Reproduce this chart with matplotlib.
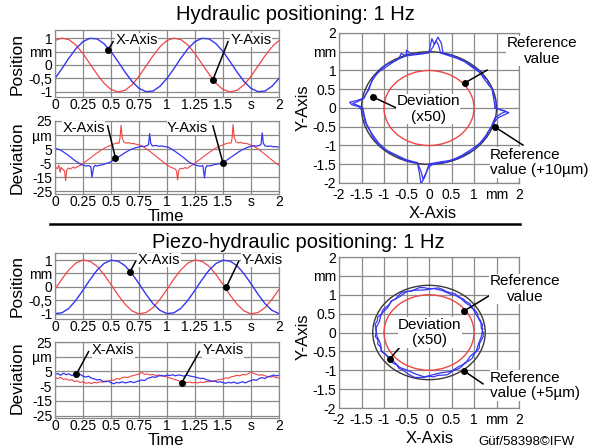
import numpy as np
import matplotlib
matplotlib.use('Agg')
import matplotlib.pyplot as plt
from matplotlib.patches import Circle
from matplotlib.lines import Line2D

plt.rcParams['font.family'] = ['Liberation Sans', 'DejaVu Sans']

# ---------------- data ----------------
time_ticks = [0, 0.25, 0.5, 0.75, 1, 1.25, 1.5, 1.75, 2]
time_ticklabels = ['0', '0.25', '0.5', '0.75', '1', '1.25', '1.5', 's', '2']
pos_ticks = [1, 0.5, 0, -0.5, -1]
pos_ticklabels = ['1', 'mm', '0', '-0,5', '-1']
dev_ticks = [25, 15, 5, -5, -15, -25]
dev_ticklabels = ['25', 'µm', '5', '-5', '-15', '-25']
xy_ticks = [-2, -1.5, -1, -0.5, 0, 0.5, 1, 1.5, 2]
xy_ticklabels = ['-2', '-1.5', '-1', '-0.5', '0', '0.5', '1', 'mm', '2']

# position samples (mm), 33 samples over 0..2 s
hyd_pos_x = [-0.50, -0.13, 0.26, 0.61, 0.87, 0.99, 0.97, 0.79, 0.50, 0.13, -0.26, -0.61, -0.87, -0.99, -0.97, -0.79,
             -0.50, -0.13, 0.26, 0.61, 0.87, 0.99, 0.97, 0.79, 0.50, 0.13, -0.26, -0.61, -0.87, -0.99, -0.97, -0.79, -0.50]
hyd_pos_y = [0.91, 1.00, 0.94, 0.74, 0.42, 0.04, -0.34, -0.68, -0.91, -1.00, -0.94, -0.74, -0.42, -0.04, 0.34, 0.68,
             0.91, 1.00, 0.94, 0.74, 0.42, 0.04, -0.34, -0.68, -0.91, -1.00, -0.94, -0.74, -0.42, -0.04, 0.34, 0.68, 0.91]
pz_pos_x = [-0.99, -0.96, -0.79, -0.49, -0.12, 0.27, 0.62, 0.87, 0.99, 0.96, 0.79, 0.49, 0.12, -0.27, -0.62, -0.87,
            -0.99, -0.96, -0.79, -0.49, -0.12, 0.27, 0.62, 0.87, 0.99, 0.96, 0.79, 0.49, 0.12, -0.27, -0.62, -0.87, -0.99]
pz_pos_y = [-0.09, 0.30, 0.64, 0.89, 1.00, 0.95, 0.77, 0.46, 0.09, -0.30, -0.64, -0.89, -1.00, -0.95, -0.77, -0.46,
            -0.09, 0.30, 0.64, 0.89, 1.00, 0.95, 0.77, 0.46, 0.09, -0.30, -0.64, -0.89, -1.00, -0.95, -0.77, -0.46, -0.09]

# hydraulic deviation (µm)
hyd_dev_x_t = [0.00, 0.025, 0.05, 0.075, 0.10, 0.125, 0.15, 0.175, 0.20, 0.225,
               0.25, 0.275, 0.30, 0.32, 0.33, 0.345, 0.36, 0.375, 0.40, 0.425,
               0.45, 0.475, 0.50, 0.525, 0.55, 0.575, 0.60, 0.625, 0.65, 0.675,
               0.70, 0.725, 0.75, 0.775, 0.80, 0.825, 0.835, 0.845, 0.855, 0.87,
               0.90, 0.925, 0.95, 0.975,
               1.00, 1.025, 1.05, 1.075, 1.10, 1.125, 1.15, 1.175, 1.20, 1.225,
               1.25, 1.275, 1.30, 1.32, 1.335, 1.345, 1.36, 1.375, 1.40, 1.425,
               1.45, 1.475, 1.50, 1.525, 1.55, 1.575, 1.60, 1.625, 1.65, 1.675,
               1.70, 1.725, 1.75, 1.775, 1.80, 1.825, 1.84, 1.85, 1.86, 1.875,
               1.90, 1.925, 1.95, 1.975, 2.00]
hyd_dev_x = [5.5, 5.0, 4.2, 3.0, 1.6, 0.2, -1.4, -3.0, -4.3, -5.6,
             -6.4, -7.0, -6.8, -7.5, -15.0, -8.0, -6.6, -7.1, -6.5, -6.2,
             -5.4, -4.9, -4.0, -2.6, -1.6, -0.2, 1.1, 2.4, 3.6, 4.6,
             5.4, 6.1, 6.5, 7.0, 6.8, 7.6, 8.2, 16.0, 9.0, 7.2,
             7.6, 7.0, 7.3, 6.8,
             6.6, 5.8, 4.5, 3.2, 1.8, 0.3, -1.2, -2.9, -4.4, -5.5,
             -6.3, -6.9, -7.2, -6.8, -15.5, -8.2, -6.7, -7.0, -6.6, -6.0,
             -5.7, -5.2, -4.8, -3.4, -2.0, -0.6, 0.8, 2.2, 3.5, 4.7,
             5.6, 6.4, 7.0, 7.4, 7.1, 7.6, 8.3, 16.5, 9.2, 7.3,
             6.9, 7.2, 6.6, 6.8, 6.2]
hyd_dev_y_t = [0.00, 0.02, 0.035, 0.045, 0.055, 0.07, 0.085, 0.095, 0.105, 0.12,
               0.14, 0.16, 0.18, 0.20, 0.225, 0.25, 0.275, 0.30, 0.325, 0.35,
               0.375, 0.40, 0.425, 0.45, 0.475, 0.50, 0.525, 0.55, 0.57, 0.58,
               0.59, 0.60, 0.615, 0.64, 0.66, 0.68, 0.70, 0.725, 0.75, 0.775,
               0.80, 0.825, 0.85, 0.875, 0.90, 0.925, 0.95, 0.975,
               1.00, 1.025, 1.05, 1.07, 1.085, 1.095, 1.105, 1.12, 1.14, 1.16,
               1.18, 1.20, 1.225, 1.25, 1.275, 1.30, 1.325, 1.35, 1.375, 1.40,
               1.425, 1.45, 1.475, 1.50, 1.525, 1.55, 1.57, 1.58, 1.59, 1.60,
               1.615, 1.64, 1.66, 1.68, 1.70, 1.725, 1.75, 1.775, 1.80, 1.825,
               1.85, 1.875, 1.90, 1.925, 1.95, 1.975, 2.00]
hyd_dev_y = [-7.5, -9.0, -6.5, -11.5, -8.0, -9.5, -10.5, -17.5, -10.0, -8.5,
             -9.2, -7.8, -8.6, -7.4, -6.6, -5.2, -3.8, -2.2, -0.8, 0.8,
             2.2, 3.6, 4.8, 6.0, 7.0, 7.6, 8.6, 9.4, 9.0, 12.5,
             22.0, 13.0, 10.0, 9.2, 9.6, 8.8, 9.0, 8.4, 8.0, 7.2,
             6.0, 4.6, 3.2, 1.6, 0.0, -1.6, -3.2, -4.8,
             -6.4, -7.6, -8.4, -9.0, -10.5, -17.0, -10.2, -8.6, -9.0, -8.2,
             -8.8, -7.6, -6.4, -5.0, -3.4, -2.0, -0.4, 1.0, 2.6, 3.8,
             5.2, 6.4, 7.2, 8.0, 8.8, 9.4, 9.2, 12.0, 22.5, 13.5,
             10.2, 9.4, 9.8, 9.0, 9.2, 8.6, 7.8, 7.0, 5.8, 4.4,
             2.8, 1.2, -0.4, -2.0, -3.6, -5.2, -6.6]

# piezo-hydraulic deviation (µm), 81 samples over 0..2 s
pz_dev_x = [3.0, 3.6, 2.4, 3.8, 2.8, 3.4, 2.2, 3.2, 2.6, 3.0, 1.8,
            1.2, 1.8, 0.4, 0.0, -0.8, -0.4, -1.6, -2.0, -1.6, -2.6,
            -3.4, -2.4, -2.8, -2.0, -2.8, -2.4, -1.8, -2.6, -2.0, -1.4,
            -0.8, -1.2, 0.2, 0.8, 1.4, 1.0, 2.0, 2.4, 1.8, 2.6,
            2.2, 2.8, 2.0, 2.6, 2.4, 1.8, 2.6, 2.0, 1.6, 1.2,
            0.8, 0.2, 0.4, -0.6, -1.0, -1.8, -1.4, -2.4, -2.0, -2.6,
            -3.0, -2.4, -2.8, -2.2, -3.2, -2.6, -2.0, -2.8, -1.8, -1.2,
            -0.6, -1.0, 0.4, 0.8, 0.2, 1.4, 1.8, 2.6, 2.0, 2.4]
pz_dev_y = [0.8, 0.2, 1.0, -0.4, 0.0, -1.0, -0.6, -1.8, -1.4, -2.4, -2.0,
            -3.0, -2.6, -3.2, -2.4, -2.8, -2.0, -2.4, -1.4, -1.8, -0.8,
            -1.0, 0.2, -0.2, 0.8, 1.2, 0.8, 1.8, 2.2, 2.8, 3.2,
            4.4, 3.0, 3.4, 2.6, 3.0, 2.2, 2.6, 1.8, 2.0, 1.2,
            0.6, 0.0, -0.6, -1.2, -2.2, -1.8, -2.6, -2.2, -2.8, -2.4,
            -2.8, -2.2, -2.6, -1.8, -2.0, -1.4, -1.6, -0.8, -0.4, 0.0,
            0.6, 0.4, 1.4, 1.8, 2.4, 2.0, 3.0, 2.6, 3.4, 4.8,
            3.6, 3.0, 2.4, 2.8, 2.0, 1.6, 1.2, 1.6, 0.8, 0.6]

# XY plots: reference radius and tolerance radius (mm, deviation x50)
ref_radius = 1.0
hyd_tol_radius = 1.5
pz_tol_radius = 1.25

# hydraulic XY deviation contour (angle deg, radius mm) - two laps
hyd_xy_ang1 = [0, 5, 10, 15, 20, 25, 30, 35, 40, 45, 50, 55, 60, 65, 70, 75,
               78, 81, 84, 86, 88, 90, 93,
               100, 105, 108, 110, 113, 116, 120,
               125, 130, 135, 140, 145, 150, 155, 160, 165, 170,
               173, 175, 177, 179, 182, 185,
               190, 195, 200,
               210, 215, 220, 225, 230, 235, 240, 245, 250, 255, 260,
               263, 265, 267, 269, 272, 275,
               280, 285, 290, 295, 300, 305, 310, 315, 320, 325, 330, 335, 340, 345, 350,
               353, 356, 358, 360]
hyd_xy_rad1 = [1.48, 1.50, 1.49, 1.47, 1.50, 1.46, 1.50, 1.47, 1.52, 1.48, 1.47, 1.48, 1.46, 1.47, 1.50, 1.48,
               1.50, 1.75, 1.90, 1.70, 1.85, 1.50, 1.46,
               1.47, 1.48, 1.62, 1.48, 1.58, 1.50, 1.46,
               1.48, 1.50, 1.49, 1.47, 1.50, 1.46, 1.44, 1.42, 1.45, 1.48,
               1.62, 1.77, 1.72, 1.55, 1.50, 1.48,
               1.46, 1.47, 1.44,
               1.46, 1.48, 1.47, 1.49, 1.47, 1.48, 1.46, 1.48, 1.49, 1.50, 1.48,
               1.75, 2.03, 1.85, 1.62, 1.52, 1.50,
               1.48, 1.50, 1.47, 1.49, 1.48, 1.47, 1.49, 1.48, 1.47, 1.49, 1.48, 1.46, 1.48, 1.50, 1.55,
               1.65, 1.78, 1.60, 1.48]
hyd_xy_ang2 = [0, 10, 20, 30, 40, 50, 60, 70, 80, 83, 85, 87, 90, 100, 110, 120, 130, 140, 150, 160, 170,
               174, 176, 178, 180, 190, 200, 210, 220, 230, 240, 250, 260, 264, 266, 268, 270,
               280, 290, 300, 310, 320, 330, 340, 350, 355, 357, 359, 360]
hyd_xy_rad2 = [1.47, 1.46, 1.49, 1.45, 1.47, 1.45, 1.48, 1.46, 1.49, 1.70, 1.80, 1.62, 1.47,
               1.45, 1.48, 1.47, 1.45, 1.48, 1.46, 1.44, 1.47,
               1.60, 1.70, 1.55, 1.47, 1.45, 1.46, 1.44, 1.46, 1.47, 1.45, 1.47, 1.48,
               1.70, 1.90, 1.72, 1.49,
               1.46, 1.48, 1.46, 1.45, 1.47, 1.46, 1.47, 1.49, 1.62, 1.72, 1.55, 1.47]

# piezo-hydraulic XY deviation contour (radius mm), lap 1 every 5 deg, lap 2 every 10 deg from 5 deg
pz_xy_rad1 = [1.20, 1.18, 1.21, 1.17, 1.16, 1.19, 1.18, 1.15, 1.19, 1.16, 1.17, 1.14, 1.18, 1.16, 1.15, 1.18,
              1.20, 1.17, 1.16, 1.19, 1.21, 1.18, 1.17, 1.20, 1.22, 1.19, 1.16, 1.18, 1.15, 1.17, 1.19, 1.16,
              1.21, 1.19, 1.22, 1.18,
              1.17, 1.20, 1.15, 1.18, 1.14, 1.17, 1.13, 1.12, 1.15, 1.14, 1.12, 1.16, 1.15, 1.18, 1.21, 1.23,
              1.21, 1.19, 1.16, 1.18, 1.15, 1.17, 1.19, 1.16, 1.14, 1.17, 1.15, 1.13, 1.16, 1.18, 1.15, 1.17,
              1.19, 1.16, 1.18, 1.21, 1.20]
pz_xy_rad2 = [1.17, 1.19, 1.15, 1.17, 1.13, 1.16, 1.12, 1.15, 1.17, 1.13, 1.16, 1.19, 1.15, 1.18, 1.13, 1.17,
              1.14, 1.19, 1.16, 1.12, 1.16, 1.11, 1.10, 1.13, 1.11, 1.14, 1.18, 1.12, 1.10, 1.14, 1.12, 1.15,
              1.11, 1.16, 1.14, 1.17, 1.20]

# ---------------- figure ----------------
W, H = 589, 448
fig = plt.figure(figsize=(W / 100, H / 100), dpi=100)


def rect(x0, y0, x1, y1):
    return [x0 / W, 1 - y1 / H, (x1 - x0) / W, (y1 - y0) / H]


BLUE = '#3535f2'
RED = '#f04545'
GRID = '#8a8a8a'


def style(ax, xlim, ylim, xt, xtl, yt, ytl, xpad=1.0):
    ax.set_xlim(xlim)
    ax.set_ylim(ylim)
    ax.set_xticks(xt)
    ax.set_xticklabels(xtl)
    ax.set_yticks(yt)
    ax.set_yticklabels(ytl)
    ax.tick_params(length=0, labelsize=10, pad=2)
    ax.tick_params(axis='x', pad=xpad)
    ax.grid(True, color=GRID, lw=0.9)
    ax.set_axisbelow(True)
    for s in ax.spines.values():
        s.set_color(GRID)
        s.set_linewidth(0.9)


def callout(ax, dot, end, txt_xy, txt, ha='left', fs=10.5):
    ax.plot([dot[0], end[0]], [dot[1], end[1]], color='black', lw=1.1, clip_on=False, zorder=5)
    ax.plot([dot[0]], [dot[1]], 'o', color='black', ms=4, clip_on=False, zorder=6)
    ax.text(txt_xy[0], txt_xy[1], txt, ha=ha, va='center', fontsize=fs, zorder=7,
            linespacing=1.15,
            bbox=dict(facecolor='white', edgecolor='none', pad=0.3))


def ftext(x, y, s, **kw):
    fig.text(x / W, 1 - y / H, s, **kw)


t33 = np.linspace(0, 2, len(hyd_pos_x))
t81 = np.linspace(0, 2, len(pz_dev_x))

# ---- hydraulic position ----
ax1 = fig.add_axes(rect(55, 30, 279, 97))
style(ax1, (0, 2), (-1.19, 1.3), time_ticks, time_ticklabels, pos_ticks, pos_ticklabels)
ax1.plot(t33, hyd_pos_y, color=RED, lw=0.9)
ax1.plot(t33, hyd_pos_x, color=BLUE, lw=1.0)
callout(ax1, (0.47, 0.54), (0.52, 0.87), (0.54, 0.93), 'X-Axis')
callout(ax1, (1.41, -0.55), (1.545, 0.87), (1.565, 0.93), 'Y-Axis')

# ---- hydraulic deviation ----
ax2 = fig.add_axes(rect(55, 121, 279, 194))
style(ax2, (0, 2), (-27, 25), time_ticks, time_ticklabels, dev_ticks, dev_ticklabels)
ax2.plot(hyd_dev_y_t, hyd_dev_y, color=RED, lw=0.8)
ax2.plot(hyd_dev_x_t, hyd_dev_x, color=BLUE, lw=0.9)
callout(ax2, (0.54, -1.4), (0.47, 21.5), (0.065, 20), 'X-Axis')
callout(ax2, (1.5, -5.0), (1.41, 21.5), (1.0, 20), 'Y-Axis')

# ---- hydraulic XY ----
ax3 = fig.add_axes(rect(339, 33, 519, 183))
style(ax3, (-2, 2), (-2, 2), xy_ticks, xy_ticklabels, xy_ticks, xy_ticklabels, xpad=3.5)
ax3.add_patch(Circle((0, 0), hyd_tol_radius, fill=False, ec='#3a3a3a', lw=1.0, zorder=2))
ax3.add_patch(Circle((0, 0), ref_radius, fill=False, ec=RED, lw=1.0, zorder=2))
for ang, rad in ((hyd_xy_ang1, hyd_xy_rad1), (hyd_xy_ang2, hyd_xy_rad2)):
    a = np.radians(ang)
    r = np.array(rad)
    ax3.plot(r * np.cos(a), r * np.sin(a), color=BLUE, lw=0.9, zorder=3)
callout(ax3, (0.8, 0.67), (1.29, 1.01), (2.51, 1.52), 'Reference\nvalue', ha='center', fs=11)
callout(ax3, (-1.24, 0.29), (-0.49, -0.13), (-0.02, -0.03), 'Deviation\n(x50)', ha='center', fs=11)
callout(ax3, (1.47, -0.51), (2.09, -0.99), (1.36, -1.45), 'Reference\nvalue (+10µm)', ha='left', fs=11)

# ---- piezo position ----
ax4 = fig.add_axes(rect(55, 253, 279, 319))
style(ax4, (0, 2), (-1.19, 1.26), time_ticks, time_ticklabels, pos_ticks, pos_ticklabels)
ax4.plot(t33, pz_pos_y, color=RED, lw=0.9)
ax4.plot(t33, pz_pos_x, color=BLUE, lw=1.0)
callout(ax4, (0.67, 0.56), (0.72, 0.95), (0.74, 1.0), 'X-Axis')
callout(ax4, (1.53, 0.0), (1.64, 0.95), (1.665, 1.0), 'Y-Axis')

# ---- piezo deviation ----
ax5 = fig.add_axes(rect(55, 342, 279, 418))
style(ax5, (0, 2), (-26.6, 25), time_ticks, time_ticklabels, dev_ticks, dev_ticklabels)
ax5.plot(t81, pz_dev_y, color=RED, lw=0.8)
ax5.plot(t81, pz_dev_x, color=BLUE, lw=0.9)
callout(ax5, (0.19, 3.0), (0.30, 18.5), (0.33, 19.5), 'X-Axis')
callout(ax5, (1.13, -2.8), (1.29, 18.5), (1.32, 19.5), 'Y-Axis')

# ---- piezo XY ----
ax6 = fig.add_axes(rect(339, 257, 519, 408))
style(ax6, (-2, 2), (-2, 2), xy_ticks, xy_ticklabels, xy_ticks, xy_ticklabels, xpad=3.5)
ax6.add_patch(Circle((0, 0), pz_tol_radius, fill=False, ec='#3a3a3a', lw=1.0, zorder=2))
ax6.add_patch(Circle((0, 0), ref_radius, fill=False, ec=RED, lw=1.0, zorder=2))
a1 = np.radians(np.linspace(0, 360, len(pz_xy_rad1)))
a2 = np.radians(np.linspace(5, 365, len(pz_xy_rad2)))
r1 = np.array(pz_xy_rad1)
r2 = np.array(pz_xy_rad2)
ax6.plot(r1 * np.cos(a1), r1 * np.sin(a1), color=BLUE, lw=0.9, zorder=3)
ax6.plot(r2 * np.cos(a2), r2 * np.sin(a2), color=BLUE, lw=0.9, zorder=3)
callout(ax6, (0.78, 0.57), (1.36, 0.99), (2.13, 1.15), 'Reference\nvalue', ha='center', fs=11)
callout(ax6, (-0.87, -0.70), (-0.49, -0.17), (0.02, 0.0), 'Deviation\n(x50)', ha='center', fs=11)
callout(ax6, (0.78, -1.02), (1.20, -1.36), (1.36, -1.40), 'Reference\nvalue (+5µm)', ha='left', fs=11)

# ---- figure texts ----
ftext(295, 15, 'Hydraulic positioning: 1 Hz', ha='center', va='center', fontsize=14.5)
ftext(298, 242, 'Piezo-hydraulic positioning: 1 Hz', ha='center', va='center', fontsize=14.5)
for yc, s in ((64, 'Position'), (158, 'Deviation'), (286, 'Position'), (378, 'Deviation')):
    ftext(17, yc, s, rotation=90, ha='center', va='center', fontsize=12.5)
ftext(166, 216.5, 'Time', ha='center', va='center', fontsize=12)
ftext(166, 440, 'Time', ha='center', va='center', fontsize=12)
ftext(433, 213, 'X-Axis', ha='center', va='center', fontsize=12)
ftext(430, 438, 'X-Axis', ha='center', va='center', fontsize=12)
ftext(303, 108, 'Y-Axis', rotation=90, ha='center', va='center', fontsize=12)
ftext(303, 337, 'Y-Axis', rotation=90, ha='center', va='center', fontsize=12)
ftext(526, 442, 'Güf/58398©IFW', ha='center', va='center', fontsize=9.5)

fig.add_artist(Line2D([50 / W, 520 / W], [1 - 224 / H, 1 - 224 / H], color='black', lw=1.8))

fig.savefig('out.png', dpi=100)
